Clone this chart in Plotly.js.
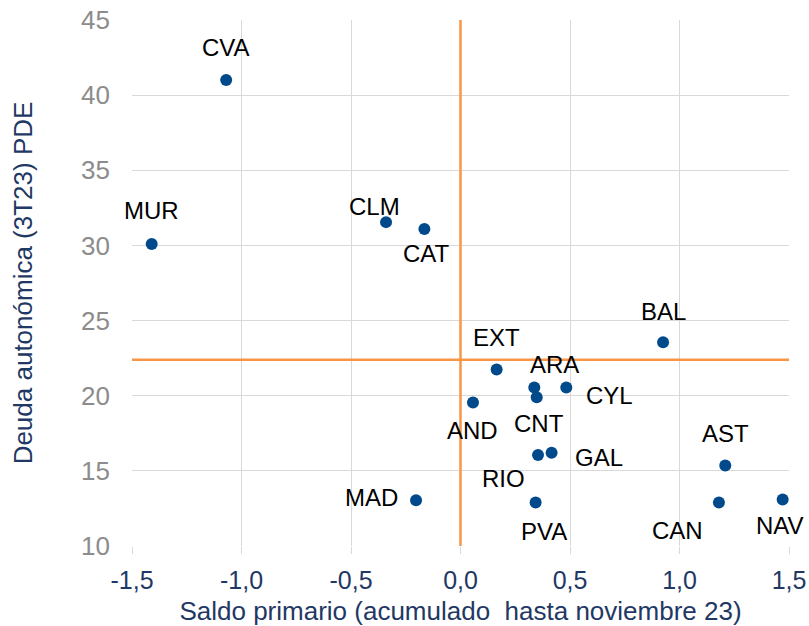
<!DOCTYPE html>
<html>
<head>
<meta charset="utf-8">
<script src="https://cdn.plot.ly/plotly-3.0.1.min.js"></script>
<style>
  html, body { margin: 0; padding: 0; background: #fff; }
  #chart { width: 809px; height: 626px; }
</style>
</head>
<body>
<div id="chart"></div>
<script>
// comunidades autónomas
const regions = ['CVA', 'MUR', 'CLM', 'CAT', 'BAL', 'EXT', 'ARA', 'CYL', 'CNT', 'AND',
                 'GAL', 'RIO', 'MAD', 'PVA', 'AST', 'CAN', 'NAV'];
// saldo primario acumulado hasta nov-23 (% PIB)
const primaryBalance = [-1.07, -1.41, -0.34, -0.165, 0.925, 0.165, 0.337, 0.483, 0.348, 0.057,
                        0.416, 0.354, -0.203, 0.343, 1.209, 1.18, 1.471];
// deuda autonómica 3T23 PDE (% PIB)
const debt = [41.0, 30.1, 31.55, 31.1, 23.55, 21.75, 20.55, 20.55, 19.9, 19.55,
              16.2, 16.05, 13.05, 12.9, 15.35, 12.9, 13.1];

// x tick labels (spanish decimal comma, plain hyphen)
const xTickVals = [-1.5, -1.0, -0.5, 0, 0.5, 1.0, 1.5];
const xTickText = ['-1,5', '-1,0', '-0,5', '0,0', '0,5', '1,0', '1,5'];

// reference lines
const balanceRef = 0;
const debtRef = 22.4;

// label offsets in px (dx, dy; dy positive = down), layout only
const labelShift = {
  CVA: [0, -33], MUR: [0, -33], CLM: [-12, -16], CAT: [2, 25], BAL: [0, -31],
  EXT: [0, -32], ARA: [20, -23], CYL: [43, 8], CNT: [2, 26], AND: [0, 28],
  GAL: [47, 5], RIO: [-35, 23], MAD: [-45, -3], PVA: [8, 29], AST: [0, -32],
  CAN: [-41, 28], NAV: [-3, 26]
};

const FONT = 'Liberation Sans, Arial, sans-serif';
const navy = '#1f3864';
const orange = '#f79646';

const trace = {
  x: primaryBalance,
  y: debt,
  text: regions,
  type: 'scatter',
  mode: 'markers',
  marker: { color: '#004a8c', size: 12 },
  hoverinfo: 'text+x+y',
  cliponaxis: false
};

const annotations = regions.map((r, i) => ({
  x: primaryBalance[i],
  y: debt[i],
  xref: 'x', yref: 'y',
  text: r,
  showarrow: false,
  xshift: labelShift[r][0],
  yshift: -labelShift[r][1],
  font: { family: FONT, size: 24, color: '#000' }
}));

const layout = {
  width: 809,
  height: 626,
  margin: { l: 132, r: 20, t: 20, b: 80 },
  paper_bgcolor: '#fff',
  plot_bgcolor: '#fff',
  showlegend: false,
  font: { family: FONT },
  xaxis: {
    range: [-1.5, 1.5],
    tickmode: 'array',
    tickvals: xTickVals,
    ticktext: xTickText,
    showgrid: true,
    gridcolor: '#d9d9d9',
    gridwidth: 1,
    zeroline: false,
    showline: false,
    ticks: 'outside',
    ticklen: 7,
    tickcolor: '#d9d9d9',
    ticklabelstandoff: 5,
    tickfont: { family: FONT, size: 25, color: navy },
    title: { text: 'Saldo primario (acumulado  hasta noviembre 23)', font: { family: FONT, size: 26, color: navy }, standoff: 8 }
  },
  yaxis: {
    range: [10, 45],
    dtick: 5,
    showgrid: true,
    gridcolor: '#d9d9d9',
    gridwidth: 1,
    zeroline: false,
    showline: false,
    ticks: '',
    ticklabelstandoff: 21,
    tickfont: { family: FONT, size: 26, color: '#8c8c8c' },
    title: { text: 'Deuda autonómica (3T23) PDE', font: { family: FONT, size: 26, color: navy }, standoff: 40 }
  },
  shapes: [
    { type: 'line', xref: 'x', yref: 'paper', x0: balanceRef, x1: balanceRef, y0: 0, y1: 1,
      line: { color: orange, width: 2.5 } },
    { type: 'line', xref: 'paper', yref: 'y', x0: 0, x1: 1, y0: debtRef, y1: debtRef,
      line: { color: orange, width: 2.5 } }
  ],
  annotations: annotations
};

Plotly.newPlot('chart', [trace], layout, { displayModeBar: false, staticPlot: true });
</script>
</body>
</html>
